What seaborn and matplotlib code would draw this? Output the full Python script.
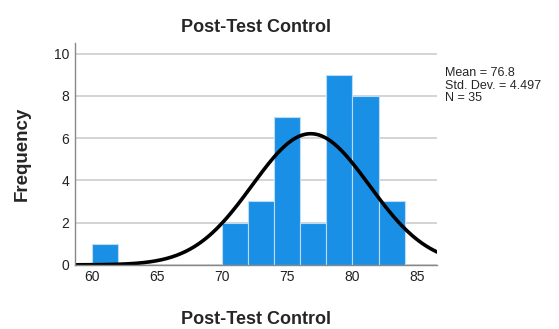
import matplotlib

matplotlib.use("Agg")
import matplotlib.pyplot as plt
import numpy as np
import pandas as pd
import seaborn as sns

# histogram bins (width 2) and counts
bin_mids = [61, 71, 73, 75, 77, 79, 81, 83]
counts = [1, 2, 3, 7, 2, 9, 8, 3]
mean_score = 76.8
sd_score = 4.497
n_total = 35
bin_width = 2

sns.set_style("white")
plt.rcParams["font.family"] = ["Liberation Sans", "DejaVu Sans"]

df = pd.DataFrame({"score": bin_mids, "count": counts})

fig = plt.figure(figsize=(5.59, 3.29), dpi=100)
ax = fig.add_axes([0.134, 0.195, 0.648, 0.674])

ax.set_axisbelow(True)
ax.yaxis.grid(True, color="#d4d4d4", linewidth=1.4)

sns.histplot(data=df, x="score", weights="count", binwidth=bin_width,
             binrange=(60, 84), color="#1a8fe6", alpha=1.0,
             edgecolor="#bcdcf5", linewidth=0.8, ax=ax)

# fitted normal curve
xs = np.linspace(58.7, 86.5, 300)
pdf = np.exp(-0.5 * ((xs - mean_score) / sd_score) ** 2) / (sd_score * np.sqrt(2 * np.pi))
sns.lineplot(x=xs, y=pdf * n_total * bin_width, color="black", linewidth=2.6, ax=ax)

ax.set_xlim(58.7, 86.5)
ax.set_ylim(0, 10.5)
ax.set_xticks([60, 65, 70, 75, 80, 85])
ax.set_yticks([0, 2, 4, 6, 8, 10])
ax.tick_params(axis="both", labelsize=10, length=0, pad=4, colors="#222222")

for side in ["top", "right"]:
    ax.spines[side].set_visible(False)
for side in ["left", "bottom"]:
    ax.spines[side].set_color("#888888")
    ax.spines[side].set_linewidth(1.0)

ax.set_title("Post-Test Control", fontsize=13, fontweight="bold", pad=8)
ax.set_xlabel("Post-Test Control", fontsize=13, fontweight="bold", labelpad=19)
ax.set_ylabel("Frequency", fontsize=13.5, fontweight="bold", labelpad=17)

fig.text(0.796, 0.795,
         f"Mean = {mean_score}\nStd. Dev. = {sd_score}\nN = {n_total}",
         fontsize=9, va="top", ha="left", linespacing=1.05)

fig.savefig("out.png", dpi=100)
